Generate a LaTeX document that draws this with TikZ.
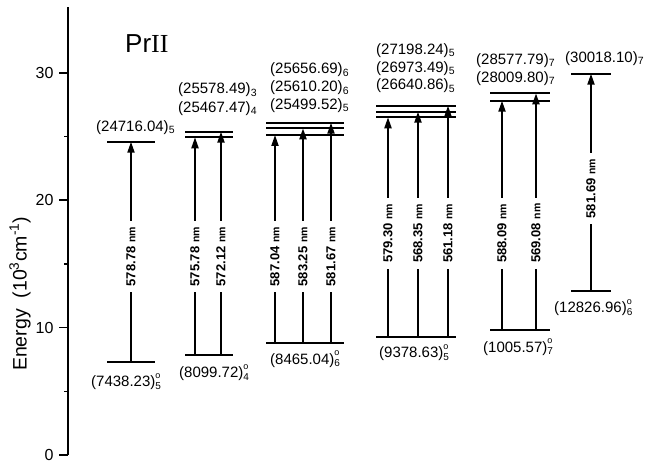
\documentclass[tikz,border=0pt]{standalone}
\usepackage{fontspec}
\setmainfont{Liberation Sans}
\newfontfamily\romfont{Liberation Serif}
\usetikzlibrary{arrows.meta}
\newcommand\nmunit{{\fontsize{10.5}{11}\selectfont nm}}
\newcommand\oddJ[1]{\rlap{\raisebox{8.5pt}{\fontsize{9}{9}\selectfont o}}\raisebox{-2.5pt}{\fontsize{10}{10}\selectfont #1}}

\begin{document}
\begin{tikzpicture}[x=1pt, y=12.74pt, >={Triangle[length=11pt,width=7pt]},
		lev/.style={line width=2pt},
		trans/.style={->, line width=2pt},
		wl/.style={rotate=90, fill=white, inner xsep=6pt, inner ysep=0.5pt, font=\bfseries\fontsize{13}{14}\selectfont},
		lab/.style={anchor=base west, inner sep=0pt, font=\fontsize{15}{18}\selectfont}]
		\useasboundingbox (0,-0.8634) rectangle (645,35.714);
		% energy axis
		\draw[line width=2pt] (68,0) -- (68,35.13);
		\foreach \e in {0,10,20,30} {
			\draw[line width=1.6pt] (59,\e) -- (68,\e);
			\node[anchor=east, font=\fontsize{16}{18}\selectfont] (tick\e) at (57,\e) {\e};
		}
		\foreach \e in {5,15,25}
			\draw[line width=1.6pt] (64,\e) -- (68,\e);
		\node[rotate=90, font=\fontsize{19.5}{21}\selectfont] (ylab) at (20,12.65) {Energy\ \ (10\textsuperscript{3}cm\textsuperscript{-1})};
		\node[anchor=base west, inner sep=0pt, font=\fontsize{26}{30}\selectfont] (ion) at (125,31.63) {Pr{\romfont II}};
		% 7438.23 -> 24716.04
		\draw[lev] (107,7.30) -- coordinate (lo1) (155,7.30);
		\draw[lev] (107,24.59) -- coordinate (up1) (155,24.59);
		\draw[trans] (lo1) -- node[wl, pos=0.478] (w1) {578.78 \nmunit} (up1);
		\node[lab] (u1) at (96,25.43) {(24716.04)\textsubscript{5}};
		\node[lab] (l1) at (91,5.36) {(7438.23)\oddJ{5}};
		% 8099.72 -> 25467.47, 25578.49
		\draw[lev] (185,7.85) -- coordinate (lo2) (233,7.85);
		\draw[lev] (185,24.94) -- coordinate (up2a) (233,24.94);
		\draw[lev] (185,25.38) -- coordinate (up2b) (233,25.38);
		\draw[trans] ([xshift=-14pt]lo2) -- node[wl, pos=0.451] (w2a) {575.78 \nmunit} ([xshift=-14pt]up2a);
		\draw[trans] ([xshift=12pt]lo2) -- node[wl, pos=0.440] (w2b) {572.12 \nmunit} ([xshift=12pt]up2b);
		\node[lab] (u2b) at (178,28.34) {(25578.49)\textsubscript{3}};
		\node[lab] (u2a) at (178,26.90) {(25467.47)\textsubscript{4}};
		\node[lab] (l2) at (179,6.07) {(8099.72)\oddJ{4}};
		% 8465.04 -> 25499.52, 25610.20, 25656.69
		\draw[lev] (266,8.81) -- coordinate (lo3) (344,8.81);
		\draw[lev] (266,25.12) -- coordinate (up3a) (344,25.12);
		\draw[lev] (266,25.64) -- coordinate (up3b) (344,25.64);
		\draw[lev] (266,26.08) -- coordinate (up3c) (344,26.08);
		\draw[trans] ([xshift=-30pt]lo3) -- node[wl, pos=0.414] (w3a) {587.04 \nmunit} ([xshift=-30pt]up3a);
		\draw[trans] ([xshift=-2pt]lo3) -- node[wl, pos=0.401] (w3b) {583.25 \nmunit} ([xshift=-2pt]up3b);
		\draw[trans] ([xshift=26pt]lo3) -- node[wl, pos=0.391] (w3c) {581.67 \nmunit} ([xshift=26pt]up3c);
		\node[lab] (u3c) at (270,29.91) {(25656.69)\textsubscript{6}};
		\node[lab] (u3b) at (270,28.52) {(25610.20)\textsubscript{6}};
		\node[lab] (u3a) at (270,27.13) {(25499.52)\textsubscript{5}};
		\node[lab] (l3) at (270,7.14) {(8465.04)\oddJ{6}};
		% 9378.63 -> 26640.86, 26973.49, 27198.24
		\draw[lev] (376,9.29) -- coordinate (lo4) (456,9.29);
		\draw[lev] (376,26.51) -- coordinate (up4a) (456,26.51);
		\draw[lev] (376,26.95) -- coordinate (up4b) (456,26.95);
		\draw[lev] (376,27.42) -- coordinate (up4c) (456,27.42);
		\draw[trans] ([xshift=-28pt]lo4) -- node[wl, pos=0.471] (w4a) {579.30 \nmunit} ([xshift=-28pt]up4a);
		\draw[trans] ([xshift=2pt]lo4) -- node[wl, pos=0.459] (w4b) {568.35 \nmunit} ([xshift=2pt]up4b);
		\draw[trans] ([xshift=32pt]lo4) -- node[wl, pos=0.447] (w4c) {561.18 \nmunit} ([xshift=32pt]up4c);
		\node[lab] (u4c) at (376,31.45) {(27198.24)\textsubscript{5}};
		\node[lab] (u4b) at (376,30.06) {(26973.49)\textsubscript{5}};
		\node[lab] (u4a) at (376,28.65) {(26640.86)\textsubscript{5}};
		\node[lab] (l4) at (379,7.64) {(9378.63)\oddJ{5}};
		% 1005.57 -> 28009.80, 28577.79
		\draw[lev] (490,9.81) -- coordinate (lo5) (550,9.81);
		\draw[lev] (490,27.81) -- coordinate (up5a) (550,27.81);
		\draw[lev] (490,28.39) -- coordinate (up5b) (550,28.39);
		\draw[trans] ([xshift=-18pt]lo5) -- node[wl, pos=0.422] (w5a) {588.09 \nmunit} ([xshift=-18pt]up5a);
		\draw[trans] ([xshift=16pt]lo5) -- node[wl, pos=0.409] (w5b) {569.08 \nmunit} ([xshift=16pt]up5b);
		\node[lab] (u5b) at (476,30.69) {(28577.79)\textsubscript{7}};
		\node[lab] (u5a) at (476,29.25) {(28009.80)\textsubscript{7}};
		\node[lab] (l5) at (483,8.06) {(1005.57)\oddJ{7}};
		% 12826.96 -> 30018.10
		\draw[lev] (571,12.90) -- coordinate (lo6) (611,12.90);
		\draw[lev] (571,29.93) -- coordinate (up6) (611,29.93);
		\draw[trans] (lo6) -- node[wl, pos=0.470] (w6) {581.69 \nmunit} (up6);
		\node[lab] (u6) at (565,30.79) {(30018.10)\textsubscript{7}};
		\node[lab] (l6) at (554,11.17) {(12826.96)\oddJ{6}};
	\end{tikzpicture}
\end{document}
